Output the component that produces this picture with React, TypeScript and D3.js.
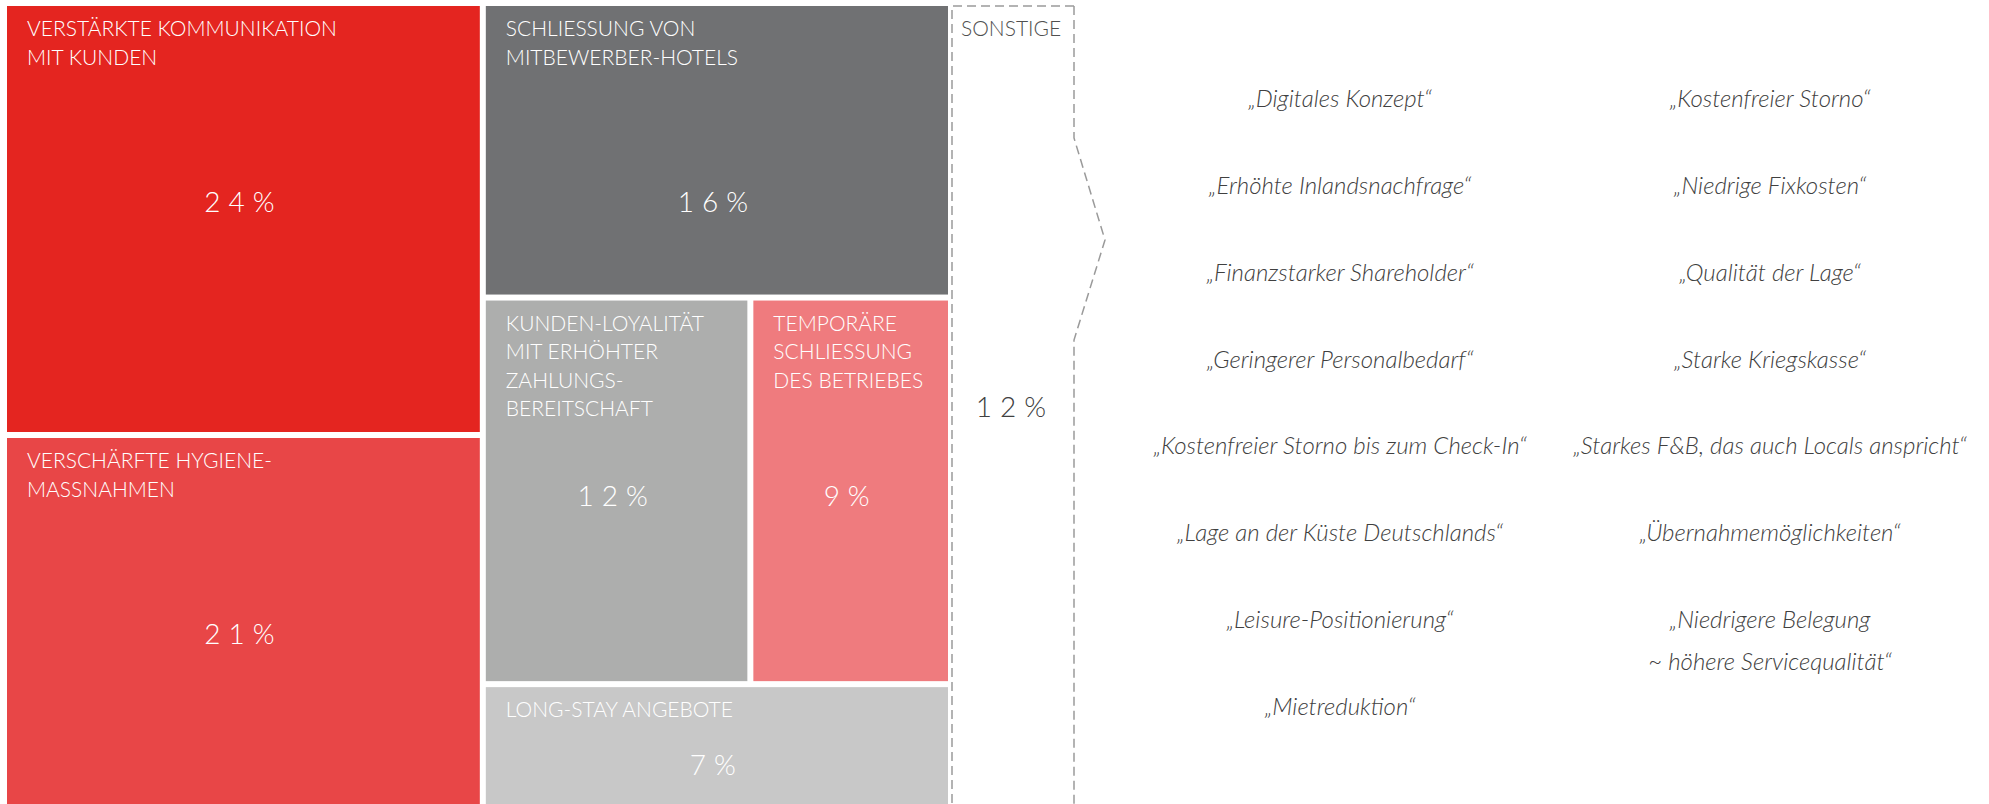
import React, { useEffect, useRef } from "react";
import * as d3 from "d3";

// treemap categories (top-left reading order), their share in % and label lines
const categoryIds = ["kommunikation", "hygiene", "mitbewerber", "loyalitaet", "schliessung", "longstay"];
const categoryParents = ["col1", "col1", "col2", "row", "row", "col2"];
const categoryLabels = [
  ["VERSTÄRKTE KOMMUNIKATION", "MIT KUNDEN"],
  ["VERSCHÄRFTE HYGIENE-", "MASSNAHMEN"],
  ["SCHLIESSUNG VON", "MITBEWERBER-HOTELS"],
  ["KUNDEN-LOYALITÄT", "MIT ERHÖHTER", "ZAHLUNGS-", "BEREITSCHAFT"],
  ["TEMPORÄRE", "SCHLIESSUNG", "DES BETRIEBES"],
  ["LONG-STAY ANGEBOTE"],
];
const categoryShares = [24, 21, 16, 12, 9, 7];
const categoryColors = ["#E42520", "#E84647", "#707173", "#ADAEAD", "#EF7B7E", "#C8C8C8"];

const otherLabel = "SONSTIGE";
const otherShare = 12;

// answers grouped under "Sonstige"
const othersLeft = [
  ["„Digitales Konzept“"],
  ["„Erhöhte Inlandsnachfrage“"],
  ["„Finanzstarker Shareholder“"],
  ["„Geringerer Personalbedarf“"],
  ["„Kostenfreier Storno bis zum Check-In“"],
  ["„Lage an der Küste Deutschlands“"],
  ["„Leisure-Positionierung“"],
  ["„Mietreduktion“"],
];
const othersRight = [
  ["„Kostenfreier Storno“"],
  ["„Niedrige Fixkosten“"],
  ["„Qualität der Lage“"],
  ["„Starke Kriegskasse“"],
  ["„Starkes F&B, das auch Locals anspricht“"],
  ["„Übernahmemöglichkeiten“"],
  ["„Niedrigere Belegung", "~ höhere Servicequalität“"],
];

const WIDTH = 1989;
const HEIGHT = 804;
const FONT = "Lato, 'Open Sans', sans-serif";
const NUM_SPACING = 8;

export default function App() {
  const svgRef = useRef<SVGSVGElement | null>(null);

  useEffect(() => {
    const svg = d3.select(svgRef.current);
    svg.selectAll("*").remove();

    // build hierarchy: two columns, second column holds a row of two
    const rows = [
      { id: "root", parent: "" },
      { id: "col1", parent: "root" },
      { id: "col2", parent: "root" },
      ...categoryIds.slice(0, 3).map((id, i) => ({ id, parent: categoryParents[i] })),
      { id: "row", parent: "col2" },
      ...categoryIds.slice(3).map((id, i) => ({ id, parent: categoryParents[i + 3] })),
    ];
    const root = d3
      .stratify<{ id: string; parent: string }>()
      .id((d) => d.id)
      .parentId((d) => d.parent || null)(rows);
    root.sum((d) => {
      const i = categoryIds.indexOf(d.id);
      return i >= 0 ? categoryShares[i] : 0;
    });

    const area = { x: 7, y: 6, w: 941, h: 804 };
    d3.treemap<any>()
      .tile(d3.treemapSliceDice)
      .size([area.w, area.h])
      .paddingInner(6)(root as any);

    const g = svg.append("g").attr("transform", `translate(${area.x},${area.y})`);
    const leaves = root.leaves() as any[];

    const cell = g
      .selectAll("g.cell")
      .data(leaves)
      .enter()
      .append("g")
      .attr("class", "cell")
      .attr("transform", (d) => `translate(${d.x0},${d.y0})`);

    cell
      .append("rect")
      .attr("width", (d) => d.x1 - d.x0)
      .attr("height", (d) => d.y1 - d.y0)
      .attr("fill", (d) => categoryColors[categoryIds.indexOf(d.id)]);

    cell
      .append("text")
      .attr("fill", "#fff")
      .style("font-family", FONT)
      .style("font-weight", 300)
      .style("font-size", "21px")
      .selectAll("tspan")
      .data((d) => categoryLabels[categoryIds.indexOf(d.id)])
      .enter()
      .append("tspan")
      .attr("x", 20)
      .attr("y", (_, i) => 30 + i * 28.6)
      .text((t) => t);

    cell
      .append("text")
      .attr("x", (d) => (d.x1 - d.x0) / 2 + NUM_SPACING / 2 - 4)
      .attr("y", (d) => Math.min(196, d.y1 - d.y0 - 45))
      .attr("dy", "0.35em")
      .attr("text-anchor", "middle")
      .attr("fill", "#fff")
      .style("font-family", FONT)
      .style("font-weight", 300)
      .style("font-size", "28px")
      .style("letter-spacing", `${NUM_SPACING}px`)
      .text((d) => `${categoryShares[categoryIds.indexOf(d.id)]}%`);

    // "Sonstige" box with dashed outline and a bracket pointing to the list
    const ox0 = area.x + area.w + 4;
    const ox1 = ox0 + 122;
    const tip = 31;
    const outline = d3.line()([
      [ox1, area.y],
      [ox0, area.y],
      [ox0, HEIGHT + 10],
    ]);
    const bracket = d3.line()([
      [ox1, area.y],
      [ox1, 138],
      [ox1 + tip, 240],
      [ox1, 340],
      [ox1, HEIGHT + 10],
    ]);
    [outline, bracket].forEach((p) =>
      svg
        .append("path")
        .attr("d", p)
        .attr("fill", "none")
        .attr("stroke", "#9a9a9a")
        .attr("stroke-width", 1.5)
        .attr("stroke-dasharray", "9 5")
    );
    svg
      .append("text")
      .attr("x", ox0 + 9)
      .attr("y", area.y + 30)
      .attr("fill", "#505050")
      .style("font-family", FONT)
      .style("font-weight", 300)
      .style("font-size", "21px")
      .text(otherLabel);
    svg
      .append("text")
      .attr("x", (ox0 + ox1) / 2 + NUM_SPACING / 2 - 2)
      .attr("y", 407)
      .attr("dy", "0.35em")
      .attr("text-anchor", "middle")
      .attr("fill", "#404040")
      .style("font-family", FONT)
      .style("font-weight", 300)
      .style("font-size", "28px")
      .style("letter-spacing", `${NUM_SPACING}px`)
      .text(`${otherShare}%`);

    // list of individual answers in two columns
    const col = d3.scalePoint<number>().domain([0, 1]).range([1340, 1770]);
    const row = d3.scaleLinear().domain([0, 7]).range([99, 707]);
    [othersLeft, othersRight].forEach((items, c) => {
      svg
        .append("g")
        .selectAll("text")
        .data(items)
        .enter()
        .append("text")
        .attr("text-anchor", "middle")
        .attr("fill", "#404040")
        .style("font-family", FONT)
        .style("font-weight", 300)
        .style("font-style", "italic")
        .style("font-size", "24px")
        .each(function (lines, i) {
          d3.select(this)
            .selectAll("tspan")
            .data(lines)
            .enter()
            .append("tspan")
            .attr("x", col(c) as number)
            .attr("y", row(i) + 8)
            .attr("dy", (_, j) => j * 42)
            .text((t) => t);
        });
    });
  }, []);

  return (
    <>
      <style>{"body{margin:0;background:#fff}"}</style>
      <svg ref={svgRef} width={WIDTH} height={HEIGHT} style={{ display: "block" }} />
    </>
  );
}
